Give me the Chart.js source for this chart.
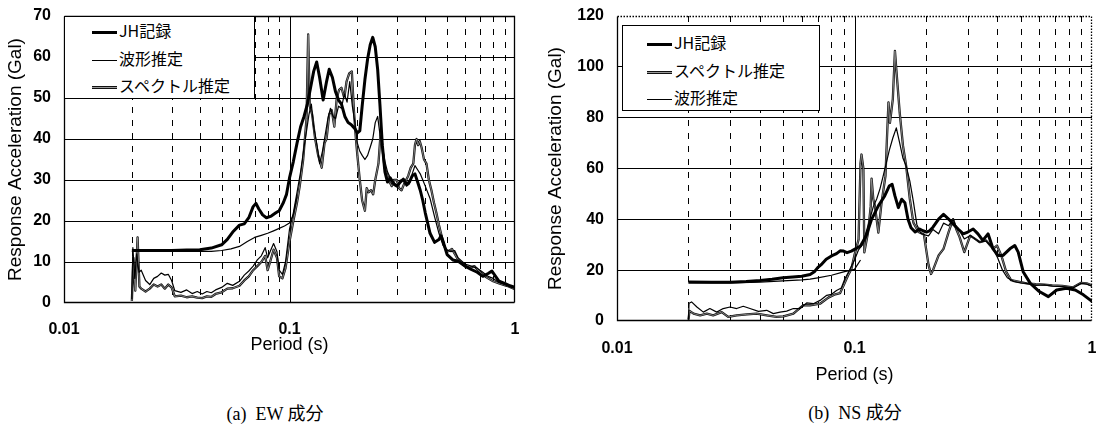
<!DOCTYPE html>
<html>
<head>
<meta charset="utf-8">
<script src="https://cdn.jsdelivr.net/npm/chart.js@4.4.1/dist/chart.umd.min.js"></script>
<style>
  body { margin: 0; background: #fff; width: 1103px; height: 427px; overflow: hidden; position: relative; }
  .wrap { position: absolute; top: 0; }
  #ewWrap { left: 0; width: 560px; height: 356px; }
  #nsWrap { left: 540px; width: 600px; height: 386px; }
  .legend { position: absolute; background: #fff; border: 1.5px solid #000; box-sizing: border-box; }
  .row { position: absolute; height: 20px; line-height: 20px; font-family: "Noto Sans CJK JP", sans-serif; font-size: 16px; color: #000; white-space: nowrap; }
  .row i { display: inline-block; width: 25px; vertical-align: middle; margin-right: 2px; }
  .row i.spec { height: 1px; border-top: 1px solid #111; border-bottom: 1px solid #111; background: #999; }
  .caption { position: absolute; font-family: "Liberation Serif", "Noto Sans CJK JP", serif; font-size: 18px; color: #000; white-space: nowrap; transform: translateX(-50%); }
</style>
</head>
<body>
<div class="wrap" id="ewWrap"><canvas id="ewChart"></canvas></div>
<div class="wrap" id="nsWrap"><canvas id="nsChart"></canvas></div>

<div class="legend" style="left:64px;top:16px;width:191px;height:83px;"></div>
<div class="row" style="left:92px;top:20px;"><i style="border-top:3px solid #000"></i>JH記録</div>
<div class="row" style="left:92px;top:48px;"><i style="border-top:1.3px solid #000"></i>波形推定</div>
<div class="row" style="left:92px;top:75px;"><i class="spec"></i>スペクトル推定</div>

<div class="legend" style="left:622px;top:25px;width:198px;height:86px;"></div>
<div class="row" style="left:647px;top:32px;"><i style="border-top:3px solid #000"></i>JH記録</div>
<div class="row" style="left:647px;top:60px;"><i class="spec"></i>スペクトル推定</div>
<div class="row" style="left:647px;top:87px;"><i style="border-top:1.3px solid #000"></i>波形推定</div>

<div class="caption" style="left:275px;top:399px;">(a)&nbsp; EW 成分</div>
<div class="caption" style="left:855px;top:398px;">(b)&nbsp; NS 成分</div>

<script>
// ---- EW component ----
const ewJhPeriod = [0.02, 0.025, 0.03, 0.035, 0.04, 0.045, 0.05, 0.053, 0.056, 0.06, 0.063, 0.066, 0.069, 0.071, 0.073, 0.076, 0.079, 0.083, 0.087, 0.09, 0.094, 0.097, 0.1, 0.104, 0.108, 0.112, 0.116, 0.12, 0.124, 0.128, 0.132, 0.136, 0.141, 0.146, 0.15, 0.155, 0.16, 0.165, 0.17, 0.176, 0.182, 0.188, 0.195, 0.2, 0.205, 0.21, 0.216, 0.222, 0.228, 0.234, 0.24, 0.246, 0.252, 0.258, 0.265, 0.272, 0.28, 0.29, 0.3, 0.31, 0.32, 0.33, 0.34, 0.35, 0.36, 0.37, 0.38, 0.39, 0.4, 0.42, 0.44, 0.46, 0.47, 0.48, 0.5, 0.53, 0.56, 0.6, 0.64, 0.68, 0.72, 0.76, 0.79, 0.82, 0.85, 0.9, 0.95, 1.0];
const ewJhAccel = [12.8, 12.8, 12.8, 12.9, 13.0, 13.4, 14.2, 15.5, 17.3, 19.0, 19.3, 20.8, 23.5, 24.3, 23.0, 21.5, 20.8, 21.2, 22.0, 22.5, 24.5, 26.5, 30.5, 34.5, 39.0, 43.0, 45.5, 48.5, 52.5, 56.5, 58.8, 55.0, 49.5, 54.0, 57.0, 55.0, 51.5, 49.5, 48.5, 45.5, 44.0, 43.5, 42.5, 41.5, 42.0, 48.0, 54.5, 59.5, 63.0, 64.8, 62.5, 57.0, 48.0, 38.5, 32.0, 29.5, 30.5, 29.0, 28.5, 29.5, 30.2, 29.0, 29.5, 31.0, 31.5, 29.5, 27.5, 25.0, 22.0, 17.0, 14.8, 15.5, 16.4, 15.0, 11.8, 10.5, 10.2, 9.0, 8.2, 7.5, 6.5, 7.2, 7.8, 6.5, 5.3, 4.8, 4.2, 3.8];

const ewWavePeriod = [0.02, 0.0202, 0.0206, 0.021, 0.0215, 0.022, 0.023, 0.024, 0.025, 0.026, 0.027, 0.028, 0.029, 0.03, 0.031, 0.033, 0.035, 0.037, 0.039, 0.041, 0.043, 0.045, 0.047, 0.05, 0.053, 0.056, 0.06, 0.063, 0.066, 0.069, 0.072, 0.075, 0.078, 0.08, 0.082, 0.085, 0.088, 0.09, 0.093, 0.096, 0.1, 0.104, 0.108, 0.112, 0.116, 0.119, 0.122, 0.125, 0.128, 0.132, 0.136, 0.14, 0.144, 0.148, 0.152, 0.156, 0.16, 0.165, 0.17, 0.175, 0.18, 0.185, 0.19, 0.195, 0.2, 0.205, 0.21, 0.216, 0.222, 0.228, 0.234, 0.24, 0.246, 0.252, 0.258, 0.265, 0.272, 0.28, 0.29, 0.3, 0.31, 0.32, 0.33, 0.34, 0.35, 0.36, 0.37, 0.38, 0.39, 0.4, 0.42, 0.44, 0.46, 0.48, 0.5, 0.52, 0.54, 0.56, 0.6, 0.64, 0.68, 0.72, 0.76, 0.8, 0.85, 0.9, 0.95, 1.0];
const ewWaveAccel = [1.0, 13.5, 6.0, 12.0, 7.5, 8.0, 5.5, 4.5, 6.0, 6.5, 7.3, 6.8, 7.0, 5.5, 3.0, 2.6, 3.2, 2.3, 2.8, 2.2, 2.8, 2.5, 3.2, 3.8, 4.8, 4.3, 5.3, 6.8, 7.8, 9.0, 10.5, 11.5, 13.5, 11.0, 12.5, 14.5, 12.5, 8.0, 7.0, 10.0, 18.0, 22.0, 27.0, 32.0, 38.0, 42.0, 46.0, 48.5, 43.0, 39.0, 34.0, 37.0, 41.0, 45.0, 47.5, 45.5, 45.0, 48.0, 47.5, 51.0, 49.0, 54.0, 48.0, 44.0, 39.0, 37.0, 36.0, 35.0, 36.0, 38.0, 40.0, 44.0, 45.5, 41.0, 38.0, 34.5, 32.0, 30.5, 29.5, 28.5, 30.0, 30.0, 28.5, 29.0, 31.5, 33.5, 32.5, 31.5, 30.0, 28.5, 25.5, 21.0, 17.0, 14.0, 13.0, 12.5, 12.8, 11.0, 9.5, 9.0, 8.5, 7.5, 6.5, 6.0, 5.0, 4.5, 4.0, 3.6];

const ewSpecPeriod = [0.02, 0.0203, 0.0207, 0.0212, 0.0216, 0.022, 0.023, 0.024, 0.025, 0.026, 0.027, 0.028, 0.029, 0.03, 0.031, 0.033, 0.035, 0.037, 0.039, 0.041, 0.043, 0.045, 0.047, 0.05, 0.053, 0.056, 0.06, 0.063, 0.066, 0.069, 0.072, 0.075, 0.078, 0.08, 0.082, 0.085, 0.088, 0.09, 0.093, 0.096, 0.1, 0.104, 0.108, 0.111, 0.115, 0.119, 0.121, 0.123, 0.126, 0.13, 0.134, 0.139, 0.143, 0.146, 0.15, 0.154, 0.158, 0.162, 0.166, 0.17, 0.175, 0.179, 0.184, 0.189, 0.193, 0.197, 0.2, 0.205, 0.21, 0.216, 0.22, 0.224, 0.23, 0.235, 0.24, 0.248, 0.254, 0.258, 0.264, 0.27, 0.278, 0.284, 0.29, 0.299, 0.306, 0.314, 0.322, 0.336, 0.345, 0.354, 0.36, 0.366, 0.372, 0.378, 0.385, 0.395, 0.405, 0.415, 0.426, 0.437, 0.448, 0.46, 0.473, 0.485, 0.498, 0.51, 0.525, 0.54, 0.56, 0.6, 0.63, 0.66, 0.7, 0.75, 0.8, 0.85, 0.92, 1.0];
const ewSpecAccel = [0.5, 11.0, 3.0, 16.0, 4.0, 3.5, 2.8, 3.5, 4.5, 4.0, 4.5, 3.5, 4.5, 3.8, 1.6, 1.8, 1.4, 1.6, 1.3, 1.2, 1.6, 1.5, 2.2, 2.6, 3.5, 3.6, 4.2, 5.5, 6.5, 8.0, 9.0, 10.0, 11.5, 8.0, 10.0, 13.0, 11.0, 6.5, 6.0, 8.5, 15.0, 20.0, 24.5, 28.5, 35.0, 45.0, 65.5, 48.0, 46.0, 40.0, 36.0, 33.0, 39.0, 40.0, 46.0, 47.0, 43.0, 50.0, 52.0, 52.5, 50.0, 54.0, 56.0, 56.5, 47.0, 40.0, 36.0, 30.0, 25.0, 22.5, 28.0, 27.0, 27.5, 26.5, 30.0, 34.0, 42.0, 38.0, 33.0, 31.5, 29.5, 28.5, 30.0, 30.0, 28.0, 27.5, 29.0, 31.0, 33.0, 34.0, 38.5, 40.0, 38.5, 39.5, 38.0, 35.0, 34.0, 30.0, 27.5, 24.5, 22.0, 19.0, 16.3, 14.0, 12.5, 12.7, 13.2, 12.0, 10.5, 9.0, 8.6, 9.0, 7.5, 6.2, 5.3, 4.8, 4.2, 3.4];

const ewSmoothPeriod = [0.02, 0.03, 0.04, 0.045, 0.05, 0.055, 0.06, 0.065, 0.07, 0.075, 0.08, 0.085, 0.09, 0.095, 0.1, 0.104, 0.108];
const ewSmoothAccel = [12.6, 12.6, 12.6, 12.6, 12.8, 13.2, 13.8, 15.0, 16.0, 16.5, 17.0, 17.6, 18.2, 18.8, 19.5, 21.5, 26.0];

// ---- NS component ----
const nsJhPeriod = [0.02, 0.025, 0.03, 0.035, 0.04, 0.045, 0.05, 0.055, 0.06, 0.065, 0.068, 0.07, 0.073, 0.076, 0.08, 0.084, 0.087, 0.09, 0.093, 0.097, 0.1, 0.106, 0.112, 0.118, 0.126, 0.134, 0.14, 0.144, 0.148, 0.153, 0.158, 0.163, 0.168, 0.173, 0.18, 0.188, 0.194, 0.201, 0.207, 0.214, 0.226, 0.237, 0.249, 0.26, 0.273, 0.287, 0.3, 0.316, 0.331, 0.347, 0.365, 0.383, 0.402, 0.422, 0.451, 0.473, 0.489, 0.513, 0.55, 0.6, 0.655, 0.71, 0.78, 0.85, 0.92, 1.0];
const nsJhAccel = [15.3, 15.2, 15.2, 15.5, 15.9, 16.4, 17.0, 17.3, 17.6, 18.3, 19.5, 21.0, 22.5, 24.3, 25.6, 26.5, 27.6, 27.5, 26.9, 27.5, 28.2, 29.5, 33.5, 40.0, 45.3, 49.2, 53.1, 53.8, 49.2, 44.6, 47.9, 46.5, 40.0, 36.7, 35.0, 36.2, 35.5, 35.0, 35.5, 36.9, 40.1, 42.0, 40.1, 38.2, 36.2, 34.3, 35.0, 36.2, 34.3, 31.7, 34.3, 28.4, 25.8, 25.8, 28.4, 29.7, 27.1, 19.4, 14.8, 11.6, 9.6, 12.2, 12.9, 12.2, 10.3, 7.7];

const nsSpecPeriod = [0.02, 0.0202, 0.021, 0.0224, 0.0239, 0.0254, 0.0276, 0.0294, 0.0319, 0.0352, 0.0387, 0.0427, 0.047, 0.0502, 0.0553, 0.0609, 0.065, 0.0716, 0.0776, 0.083, 0.087, 0.091, 0.094, 0.097, 0.1, 0.104, 0.106, 0.107, 0.109, 0.11, 0.114, 0.117, 0.118, 0.12, 0.122, 0.126, 0.13, 0.135, 0.137, 0.139, 0.141, 0.145, 0.148, 0.15, 0.155, 0.16, 0.165, 0.171, 0.177, 0.186, 0.196, 0.205, 0.21, 0.214, 0.226, 0.237, 0.249, 0.26, 0.268, 0.277, 0.29, 0.307, 0.322, 0.337, 0.358, 0.383, 0.398, 0.415, 0.435, 0.456, 0.489, 0.53, 0.58, 0.63, 0.68, 0.75, 0.83, 0.9, 0.95, 1.0];
const nsSpecAccel = [0.5, 4.0, 2.9, 2.2, 2.9, 2.2, 3.5, 1.6, 2.2, 2.6, 2.9, 2.2, 1.6, 1.8, 2.9, 6.2, 6.2, 6.8, 9.2, 10.5, 11.0, 15.0, 18.0, 20.5, 26.0, 32.0, 62.0, 65.5, 60.0, 27.0, 34.8, 45.0, 56.0, 48.0, 45.0, 34.8, 46.6, 57.0, 72.0, 86.0, 78.0, 87.3, 106.3, 99.0, 82.0, 69.0, 61.0, 48.0, 38.7, 35.0, 34.0, 22.0, 18.5, 20.0, 25.8, 28.4, 35.0, 40.1, 36.2, 33.0, 27.1, 33.6, 32.3, 31.0, 31.7, 28.4, 29.7, 25.8, 19.4, 16.1, 15.5, 14.8, 14.5, 14.3, 14.0, 13.8, 13.2, 15.0, 14.8, 14.0];

const nsWavePeriod = [0.02, 0.0201, 0.0206, 0.0217, 0.0231, 0.0246, 0.0263, 0.028, 0.0299, 0.0319, 0.034, 0.0363, 0.0394, 0.0427, 0.0455, 0.0486, 0.0518, 0.0553, 0.0589, 0.0629, 0.0671, 0.0716, 0.0764, 0.08, 0.084, 0.088, 0.091, 0.094, 0.097, 0.1, 0.104, 0.108, 0.112, 0.116, 0.12, 0.124, 0.128, 0.132, 0.136, 0.14, 0.145, 0.15, 0.155, 0.16, 0.165, 0.171, 0.177, 0.183, 0.19, 0.196, 0.205, 0.214, 0.226, 0.237, 0.249, 0.26, 0.268, 0.277, 0.29, 0.307, 0.322, 0.337, 0.358, 0.38, 0.4, 0.42, 0.44, 0.47, 0.5, 0.53, 0.58, 0.63, 0.68, 0.75, 0.83, 0.9, 0.95, 1.0];
const nsWaveAccel = [0.5, 7.0, 7.5, 5.5, 3.5, 4.9, 3.5, 4.9, 5.5, 4.9, 5.8, 4.9, 3.8, 4.2, 2.9, 3.5, 3.9, 4.9, 4.9, 7.1, 6.8, 8.1, 10.1, 10.5, 12.0, 13.0, 16.5, 19.0, 21.5, 24.0, 28.0, 30.0, 35.0, 40.0, 45.0, 48.0, 52.0, 57.0, 62.0, 67.0, 72.0, 76.0, 70.0, 64.0, 61.0, 55.0, 47.0, 38.0, 34.5, 34.0, 33.5, 36.0, 34.3, 38.5, 37.5, 40.0, 37.0, 35.5, 32.3, 33.6, 32.3, 31.0, 31.5, 29.0, 25.0, 20.0, 17.0, 15.5, 15.0, 14.8, 14.0, 14.2, 13.7, 13.5, 13.0, 14.8, 14.5, 13.7];

const nsSmoothPeriod = [0.02, 0.03, 0.04, 0.05, 0.06, 0.065, 0.07, 0.08, 0.09, 0.1, 0.106];
const nsSmoothAccel = [15.0, 15.0, 15.3, 15.8, 16.2, 16.5, 17.0, 18.0, 19.3, 20.3, 24.0];

const xTitle = "Period (s)";
const yTitle = "Response Acceleration (Gal)";

Chart.defaults.font.family = '"Liberation Sans", Arial, sans-serif';
Chart.defaults.color = "#000";

const toPoints = (periods, accel) => periods.map((p, i) => ({ x: p, y: accel[i] }));

// vertical grid (dashed minor, solid decades) and the frame
const framePlugin = {
  id: "frame",
  beforeDatasetsDraw(chart, args, opts) {
    const { ctx, chartArea: a, scales: { x } } = chart;
    ctx.save();
    ctx.strokeStyle = "#000";
    ctx.lineWidth = 1;
    [0.01, 0.1].forEach((dec) => {
      for (let m = 1; m <= 9; m++) {
        if (dec === 0.01 && m === 1) continue;
        const px = Math.round(x.getPixelForValue(dec * m)) + 0.5;
        ctx.setLineDash(m === 1 ? [] : [6, 7]);
        ctx.beginPath();
        ctx.moveTo(px, a.top);
        ctx.lineTo(px, a.bottom);
        ctx.stroke();
      }
    });
    ctx.restore();
  },
  afterDatasetsDraw(chart, args, opts) {
    const { ctx, chartArea: a } = chart;
    const l = Math.round(a.left) + 0.5, r = Math.round(a.right) - 0.5;
    const t = Math.round(a.top) + 0.5, b = Math.round(a.bottom) - 0.5;
    ctx.save();
    ctx.strokeStyle = "#000";
    ctx.lineWidth = 1.3;
    ctx.beginPath();
    ctx.moveTo(l, t); ctx.lineTo(l, b); ctx.lineTo(r, b);
    ctx.stroke();
    ctx.setLineDash(opts.dotted ? [1.5, 1.5] : []);
    ctx.beginPath();
    ctx.moveTo(l, t); ctx.lineTo(r, t); ctx.lineTo(r, b);
    ctx.stroke();
    ctx.restore();
  },
};

function makeChart(id, sets, cfg) {
  const datasets = sets.map((s) => ({
    label: s.label,
    data: s.data,
    borderColor: s.color,
    borderWidth: s.width,
    pointRadius: 0,
    tension: 0,
    fill: false,
    borderJoinStyle: "round",
  }));
  return new Chart(document.getElementById(id), {
    type: "line",
    data: { datasets },
    plugins: [framePlugin],
    options: {
      responsive: true,
      maintainAspectRatio: false,
      animation: false,
      layout: { padding: { top: 16, right: cfg.padRight, left: 0, bottom: 0 } },
      plugins: {
        legend: { display: false },
        tooltip: { enabled: false },
        frame: { dotted: cfg.dotted },
      },
      scales: {
        x: {
          type: "logarithmic",
          min: 0.01,
          max: 1,
          grid: { display: false, drawTicks: false },
          border: { display: false },
          ticks: {
            autoSkip: false,
            maxRotation: 0,
            padding: cfg.xTickPad,
            font: { size: 16, weight: "bold" },
            callback: (v) => {
              const lg = Math.log10(v);
              return Math.abs(lg - Math.round(lg)) < 1e-9 ? String(v) : "";
            },
          },
          title: { display: true, text: xTitle, font: { size: 18 }, padding: { top: 0, bottom: 0 } },
          afterFit: (s) => {
            s.height = cfg.xH;
            s.paddingLeft = 0;
            s.paddingRight = 0;
          },
        },
        y: {
          min: 0,
          max: cfg.yMax,
          ticks: { stepSize: cfg.yStep, padding: 13, font: { size: 16, weight: "bold" } },
          grid: {
            drawTicks: false,
            lineWidth: 1,
            color: (c) => (c.tick && (c.tick.value === cfg.yMax || c.tick.value === 0) ? "rgba(0,0,0,0)" : "#000"),
          },
          border: { display: false },
          title: { display: true, text: yTitle, font: { size: 19 }, padding: { top: 4, bottom: 0 } },
          afterFit: (s) => {
            s.width = cfg.yW;
            s.paddingTop = 0;
            s.paddingBottom = 0;
          },
        },
      },
    },
  });
}

// スペクトル推定 is drawn as a dark edge with a light core, like the scanned grey curve
makeChart("ewChart", [
  { label: "JH記録", data: toPoints(ewJhPeriod, ewJhAccel), color: "#000", width: 3 },
  { label: "波形推定", data: toPoints(ewWavePeriod, ewWaveAccel), color: "#000", width: 1.2 },
  { label: "", data: toPoints(ewSmoothPeriod, ewSmoothAccel), color: "#000", width: 1.2 },
  { label: "", data: toPoints(ewSpecPeriod, ewSpecAccel), color: "#999", width: 0.8 },
  { label: "スペクトル推定", data: toPoints(ewSpecPeriod, ewSpecAccel), color: "#111", width: 2.3 },
], { yMax: 70, yStep: 10, yW: 64, xH: 53, padRight: 45, xTickPad: 17, dotted: false });

makeChart("nsChart", [
  { label: "JH記録", data: toPoints(nsJhPeriod, nsJhAccel), color: "#000", width: 3 },
  { label: "波形推定", data: toPoints(nsWavePeriod, nsWaveAccel), color: "#000", width: 1.2 },
  { label: "", data: toPoints(nsSmoothPeriod, nsSmoothAccel), color: "#000", width: 1.2 },
  { label: "", data: toPoints(nsSpecPeriod, nsSpecAccel), color: "#999", width: 0.8 },
  { label: "スペクトル推定", data: toPoints(nsSpecPeriod, nsSpecAccel), color: "#111", width: 2.3 },
], { yMax: 120, yStep: 20, yW: 77, xH: 65, padRight: 48, xTickPad: 18, dotted: true });
</script>
</body>
</html>
